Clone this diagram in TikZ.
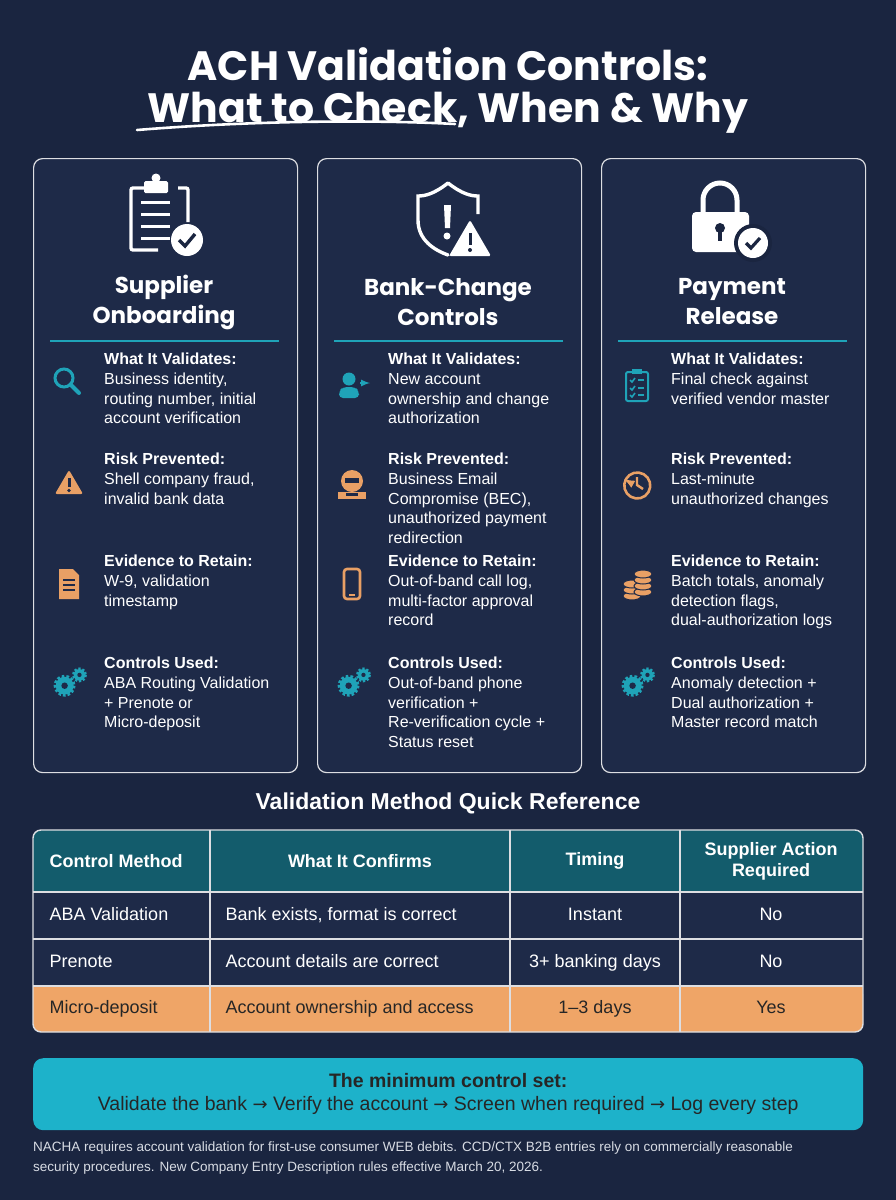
\documentclass[tikz,border=0pt]{standalone}
\usepackage{fontspec}
\setmainfont{Liberation Sans}
\newfontfamily\headfont{Poppins}
\newfontfamily\symfont{DejaVu Sans}
\usetikzlibrary{positioning}
\definecolor{bgnavy}{HTML}{1A2540}
\definecolor{cardnavy}{HTML}{1E2A48}
\definecolor{accteal}{HTML}{1FA3B8}
\definecolor{accorange}{HTML}{E9A065}
\definecolor{headteal}{HTML}{135C6C}
\definecolor{roworange}{HTML}{EFA567}
\definecolor{boxcyan}{HTML}{1DB2CA}
\definecolor{notegray}{HTML}{D8DCE4}
\newcommand{\ra}{{\symfont\fontsize{18}{18}\selectfont →}}

\tikzset{
  card/.style={draw=white!85!bgnavy, line width=1.2pt, fill=cardnavy, rounded corners=9pt},
  cardtitle/.style={font=\headfont\bfseries\fontsize{23}{30}\selectfont, text=white, align=center},
  item/.style={anchor=north west, align=left, text=white, inner sep=0pt,
    font=\fontsize{16}{19.6}\selectfont},
  cell/.style={text=white, font=\fontsize{18}{21}\selectfont, text height=13pt, text depth=4pt},
  hcell/.style={text=white, font=\bfseries\fontsize{18}{21}\selectfont, align=center},
  ocell/.style={cell, text=black!85},
  pics/gears/.style={code={
    \begin{scope}[scale=1.35]
    \draw[accteal, line width=3pt, dash pattern=on 2.6pt off 2pt] (-4,2) circle (7);
    \fill[accteal] (-4,2) circle (6.6); \fill[cardnavy] (-4,2) circle (2.4);
    \draw[accteal, line width=2.4pt, dash pattern=on 2.2pt off 1.8pt] (7,-6) circle (4.6);
    \fill[accteal] (7,-6) circle (4.3); \fill[cardnavy] (7,-6) circle (1.6);
    \end{scope}}},
  pics/magnifier/.style={code={
    \draw[accteal, line width=3pt] (-4,-4) circle (9);
    \draw[accteal, line width=4pt, line cap=round] (2.5,2.5) -- (11,11);}},
  pics/warn/.style={code={
    \fill[accorange, rounded corners=2pt] (0,-13) -- (14,11) -- (-14,11) -- cycle;
    \fill[cardnavy] (-1.5,-5) rectangle (1.5,4); \fill[cardnavy] (0,7.5) circle (1.8);}},
  pics/doc/.style={code={
    \fill[accorange] (-10,-15) -- (4,-15) -- (10,-9) -- (10,15) -- (-10,15) -- cycle;
    \foreach \yy in {-4,1,6}{\fill[cardnavy] (-6,\yy-1) rectangle (6,\yy+1);}}},
  pics/person/.style={code={
    \fill[accteal] (-6,-6) circle (6.5);
    \fill[accteal, rounded corners=4pt] (-16,13) -- (-16,6) -- (-12,2) -- (0,2) -- (4,6) -- (4,13) -- cycle;
    \draw[accteal, line width=2pt, -latex] (5,-2) -- (15,-2);}},
  pics/hacker/.style={code={
    \fill[accorange] (0,-3) circle (11);
    \fill[cardnavy] (-7,-6) rectangle (7,-1);
    \fill[accorange] (-14,15) rectangle (14,8);
    \fill[cardnavy] (-6,9) rectangle (6,12);}},
  pics/phone/.style={code={
    \draw[accorange, line width=2.6pt, rounded corners=3pt] (-8,-15) rectangle (8,15);
    \fill[accorange] (-3,10) rectangle (3,12);}},
  pics/checklist/.style={code={
    \draw[accteal, line width=2pt, rounded corners=2pt] (-11,-13) rectangle (11,16);
    \fill[accteal] (-5,-16) rectangle (5,-11);
    \foreach \yy in {-5,3,10}{
      \draw[accteal, line width=1.6pt] (-7,\yy) -- (-5,\yy+2) -- (-2,\yy-2);
      \draw[accteal, line width=1.6pt] (1,\yy) -- (7,\yy);}}},
  pics/history/.style={code={
    \draw[accorange, line width=2.6pt] (-11,-6) arc (210:-150:13);
    \draw[accorange, line width=2.6pt, -latex] (-6,-2) -- (-13,-6);
    \draw[accorange, line width=2.4pt] (0,-8) -- (0,0) -- (6,4);}},
  pics/coins/.style={code={
    \foreach \yy in {12,6,0}{\fill[accorange] (-5,\yy) ellipse (9 and 4); \draw[cardnavy, line width=1pt] (-5,\yy) ellipse (9 and 4);}
    \foreach \yy in {8,2,-4,-10}{\fill[accorange] (6,\yy) ellipse (9 and 4); \draw[cardnavy, line width=1pt] (6,\yy) ellipse (9 and 4);}}},
}

% one card: #1 x offset, #2 name, #3 title
\newcommand{\drawcard}[3]{
  \node[card, minimum width=264pt, minimum height=614pt, anchor=north west] (#2) at (#1,158) {};
  \node[cardtitle] (#2-title) at (#1+131,302) {#3};
  \draw[accteal, line width=1.4pt] (#1+17,341) -- (#1+246,341);
}

\begin{document}
\begin{tikzpicture}[x=1pt,y=-1pt]
  \fill[bgnavy] (0,0) rectangle (896,1200);

  % title
  \node[text=white, font=\headfont\bfseries\fontsize{41}{42}\selectfont, align=center] (title) at (448,91)
    {ACH Validation Controls:\\What to Check, When \& Why};
  \draw[white, line width=2.6pt, line cap=round] (137,130) .. controls (260,120) and (380,120) .. (455,124);

  % cards
  \drawcard{33}{onb}{Supplier\\Onboarding}
  \drawcard{317}{bank}{Bank-Change\\Controls}
  \drawcard{601}{pay}{Payment\\Release}

  % top icons
  \begin{scope}[white, line width=3.4pt]
    \draw[rounded corners=2pt] (148,188) -- (131,188) -- (131,250) -- (158,250);
    \draw[rounded corners=2pt] (178,188) -- (188,188) -- (188,222);
    \fill[rounded corners=1.5pt] (144,181) rectangle (168,193);
    \fill (156,178) circle (4.5);
    \foreach \yy in {202,214,226,238}{\draw[line width=3pt] (141,\yy) -- (170,\yy);}
    \fill (187,240) circle (16);
    \draw[bgnavy, line width=3.4pt] (179,240) -- (185,246) -- (195,234);
    % shield
    \draw[line cap=round] (448,183) .. controls (434,194) and (425,196) .. (418,196) -- (418,220)
      .. controls (418,240) and (434,250) .. (448,255);
    \draw (448,183) .. controls (462,194) and (471,196) .. (478,196) -- (478,214);
    \fill (447,205) -- (444,205) -- (445,228) -- (450,228) -- (451,205) -- cycle;
    \fill (447,236) circle (3.5);
    \fill[rounded corners=1.5pt] (470,220) -- (491,256) -- (449,256) -- cycle;
    \fill[bgnavy] (468.5,233) rectangle (471.5,245);
    \fill[bgnavy] (470,250) circle (2);
    % lock
    \draw[line width=5pt] (703,215) -- (703,200) arc (180:360:17) -- (737,215);
    \fill[rounded corners=4pt] (692,212) rectangle (749,252);
    \fill[bgnavy] (720,228) circle (5);
    \fill[bgnavy] (718,228) rectangle (722,241);
    \fill[bgnavy] (753,243) circle (19);
    \fill (753,243) circle (15);
    \draw[bgnavy, line width=3.2pt] (746,243) -- (751,248) -- (760,238);
  \end{scope}

  % card items: Supplier Onboarding
  \pic at (68,382) {magnifier};
  \node[item] (onb-val) at (104,353) {\textbf{What It Validates:}\\Business identity,\\routing number, initial\\account verification};
  \pic at (69,483) {warn};
  \node[item] (onb-risk) at (104,453) {\textbf{Risk Prevented:}\\Shell company fraud,\\invalid bank data};
  \pic at (69,584) {doc};
  \node[item] (onb-evid) at (104,555) {\textbf{Evidence to Retain:}\\W-9, validation\\timestamp};
  \pic at (70,683) {gears};
  \node[item] (onb-ctrl) at (104,657) {\textbf{Controls Used:}\\ABA Routing Validation\\+ Prenote or\\Micro-deposit};

  % card items: Bank-Change Controls
  \pic at (355,385) {person};
  \node[item] (bank-val) at (388,353) {\textbf{What It Validates:}\\New account\\ownership and change\\authorization};
  \pic at (352,484) {hacker};
  \node[item] (bank-risk) at (388,453) {\textbf{Risk Prevented:}\\Business Email\\Compromise (BEC),\\unauthorized payment\\redirection};
  \pic at (352,584) {phone};
  \node[item] (bank-evid) at (388,555) {\textbf{Evidence to Retain:}\\Out-of-band call log,\\multi-factor approval\\record};
  \pic at (354,683) {gears};
  \node[item] (bank-ctrl) at (388,657) {\textbf{Controls Used:}\\Out-of-band phone\\verification +\\Re-verification cycle +\\Status reset};

  % card items: Payment Release
  \pic at (637,385) {checklist};
  \node[item] (pay-val) at (671,353) {\textbf{What It Validates:}\\Final check against\\verified vendor master};
  \pic at (637,485) {history};
  \node[item] (pay-risk) at (671,453) {\textbf{Risk Prevented:}\\Last-minute\\unauthorized changes};
  \pic at (637,584) {coins};
  \node[item] (pay-evid) at (671,555) {\textbf{Evidence to Retain:}\\Batch totals, anomaly\\detection flags,\\dual-authorization logs};
  \pic at (638,683) {gears};
  \node[item] (pay-ctrl) at (671,657) {\textbf{Controls Used:}\\Anomaly detection +\\Dual authorization +\\Master record match};

  % quick reference table
  \node[text=white, font=\bfseries\fontsize{23}{28}\selectfont] (tabtitle) at (448,803) {Validation Method Quick Reference};
  \fill[cardnavy, rounded corners=8pt] (33,830) rectangle (863,1032);
  \fill[headteal, rounded corners=8pt] (33,830) rectangle (863,892);
  \fill[headteal] (33,870) rectangle (863,892);
  \fill[roworange, rounded corners=8pt] (33,986) rectangle (863,1032);
  \fill[roworange] (33,986) rectangle (863,1010);
  \begin{scope}[white!85!bgnavy, line width=1.4pt]
    \draw[rounded corners=8pt] (33,830) rectangle (863,1032);
    \foreach \yy in {892,939,986}{\draw (33,\yy) -- (863,\yy);}
    \foreach \xx in {210,510,680}{\draw (\xx,830) -- (\xx,1032);}
  \end{scope}
  \node[hcell, anchor=west] (h1) at (46,861) {Control Method};
  \node[hcell] (h2) at (360,861) {What It Confirms};
  \node[hcell, text height=13pt, text depth=4pt] (h3) at (595,861) {Timing};
  \node[hcell] (h4) at (771,861) {Supplier Action\\Required};
  \node[cell, anchor=west] (r1a) at (46,916) {ABA Validation};
  \node[cell, anchor=west] (r1b) at (222,916) {Bank exists, format is correct};
  \node[cell] (r1c) at (595,916) {Instant};
  \node[cell] (r1d) at (771,916) {No};
  \node[cell, anchor=west] (r2a) at (46,963) {Prenote};
  \node[cell, anchor=west] (r2b) at (222,963) {Account details are correct};
  \node[cell] (r2c) at (595,963) {3+ banking days};
  \node[cell] (r2d) at (771,963) {No};
  \node[ocell, anchor=west] (r3a) at (46,1009) {Micro-deposit};
  \node[ocell, anchor=west] (r3b) at (222,1009) {Account ownership and access};
  \node[ocell] (r3c) at (595,1009) {1–3 days};
  \node[ocell] (r3d) at (771,1009) {Yes};

  % minimum control set
  \node[fill=boxcyan, rounded corners=10pt, minimum width=830pt, minimum height=72pt, anchor=north west] (minbox) at (33,1058) {};
  \node[text=black!85, align=center, font=\fontsize{19.5}{23}\selectfont] (mintext) at (minbox.center)
    {\textbf{The minimum control set:}\\Validate the bank \ra{} Verify the account \ra{} Screen when required \ra{} Log every step};

  % footnote
  \node[anchor=north west, text=notegray, align=left, inner sep=0pt, font=\fontsize{13.5}{19.5}\selectfont] (note) at (33,1142)
    {NACHA requires account validation for first-use consumer WEB debits. CCD/CTX B2B entries rely on commercially reasonable\\security procedures. New Company Entry Description rules effective March 20, 2026.};
\end{tikzpicture}
\end{document}
